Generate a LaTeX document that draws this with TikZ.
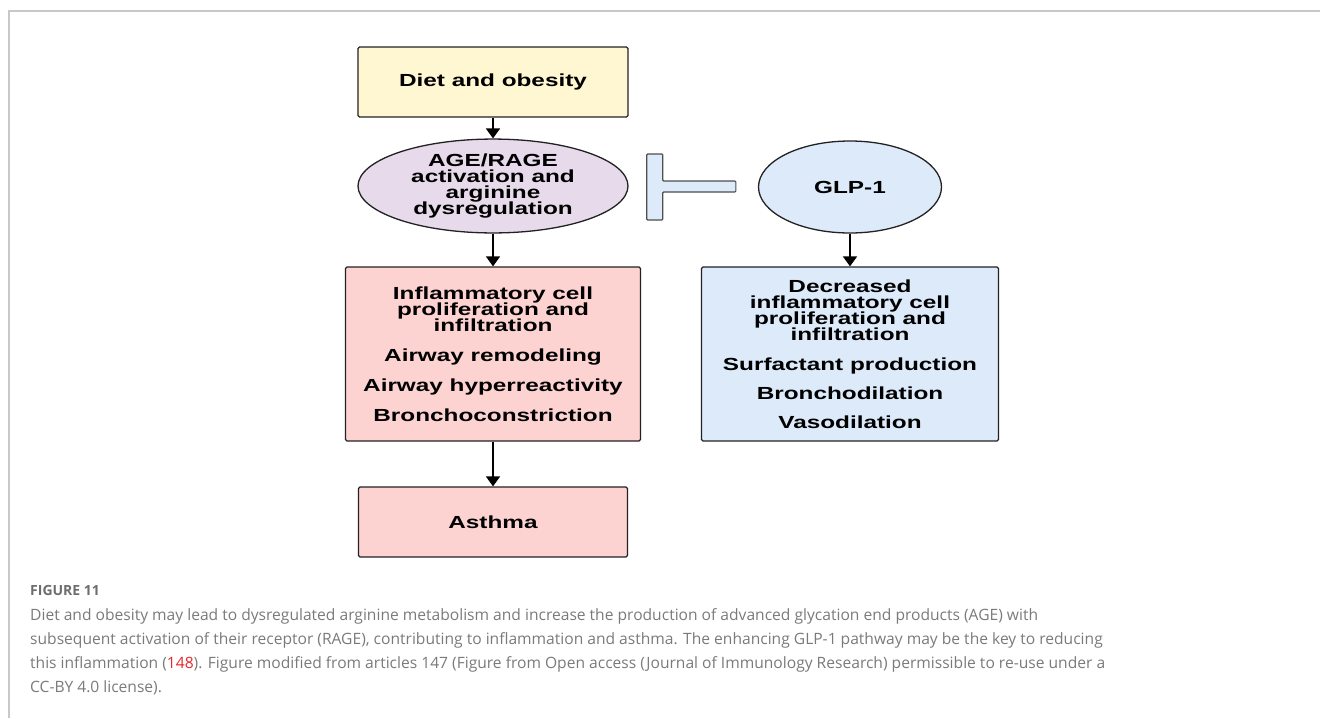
\documentclass[tikz,border=0pt]{standalone}
\usepackage{fontspec}
\setmainfont{Liberation Sans}
\newfontfamily\capfont{Open Sans}
\usepackage{graphicx}
\usetikzlibrary{shapes.geometric,arrows.meta,calc}
\definecolor{dietfill}{HTML}{FFF7D1}
\definecolor{agefill}{HTML}{E7DAEB}
\definecolor{bluefill}{HTML}{DCEAFA}
\definecolor{redfill}{HTML}{FDD3D2}
\definecolor{edge}{HTML}{222222}
\definecolor{framegrey}{HTML}{C8C8C8}
\definecolor{captext}{HTML}{7A7A7A}
\definecolor{capred}{HTML}{E8262A}
\newcommand\wtxt[1]{\scalebox{1.39}[1]{\vbox{\lineskiplimit=-\maxdimen\baselineskip=16pt\halign{\hfil##\hfil\cr#1\crcr}}}}
\newcommand\gapa{\noalign{\vskip 14pt}}
\newcommand\gapb{\noalign{\vskip 13pt}}
\begin{document}
\begin{tikzpicture}[x=1pt,y=-1pt,
  box/.style={draw=edge, line width=1.3pt, rounded corners=1.5pt, inner sep=1pt,
    align=center, font=\bfseries\fontsize{17.5}{16}\selectfont},
  ell/.style={box, ellipse, rounded corners=0pt},
  arr/.style={draw=black, line width=1.8pt, -{Triangle[width=14pt,length=10pt]}},
  tbar/.style={draw=edge!80, fill=bluefill, line width=1.2pt, rounded corners=1pt},
  captionline/.style={anchor=base west, inner sep=0pt, text=captext, font=\capfont\fontsize{15.6}{18}\selectfont}]
\useasboundingbox (0,0) rectangle (1320,718);
\draw[framegrey, line width=1.5pt] (9,718) -- (9,11) -- (1320,11);

\node[box, fill=dietfill, minimum width=270pt, minimum height=70pt] (diet) at (493,82) {\wtxt{Diet and obesity}};
\node[ell, fill=agefill, minimum width=270pt, minimum height=92pt] (age) at (493,186)
  {\wtxt{AGE/RAGE\cr activation and\cr arginine\cr dysregulation}};
\node[ell, fill=bluefill, minimum width=183pt, minimum height=92pt] (glp) at (850,187) {\wtxt{GLP-1}};
\node[box, fill=redfill, minimum width=295pt, minimum height=174pt] (red) at (493,354)
  {\wtxt{Inflammatory cell\cr proliferation and\cr infiltration\cr\gapa Airway remodeling\cr\gapa Airway hyperreactivity\cr\gapa Bronchoconstriction}};
\node[box, fill=bluefill, minimum width=297pt, minimum height=174pt] (blue) at (850,354)
  {\wtxt{Decreased\cr inflammatory cell\cr proliferation and\cr infiltration\cr\gapa Surfactant production\cr\gapb Bronchodilation\cr\gapb Vasodilation}};
\node[box, fill=redfill, minimum width=269pt, minimum height=70pt] (asthma) at (493,522) {\wtxt{Asthma}};

\draw[arr] (diet) -- (age);
\draw[arr] (age) -- (red);
\draw[arr] (red) -- (asthma);
\draw[arr] (glp) -- (blue);

\coordinate (ta) at ($(age.east)+(18,-32)$);
\coordinate (td) at ($(glp.west)+(-22,-6)$);
\draw[tbar] (ta) -- ++(16,0) |- (td) -- ++(0,11) -| ($(ta)+(16,66)$) -- ($(ta)+(0,66)$) -- cycle;

\node[captionline, font=\capfont\bfseries\fontsize{14}{16}\selectfont, text=captext!110] (fig) at (30,595) {FIGURE 11};
\node[captionline] (c1) at (30,620) {Diet and obesity may lead to dysregulated arginine metabolism and increase the production of advanced glycation end products (AGE) with};
\node[captionline] (c2) at (30,644) {subsequent activation of their receptor (RAGE), contributing to inflammation and asthma. The enhancing GLP-1 pathway may be the key to reducing};
\node[captionline] (c3) at (30,668) {this inflammation (\textcolor{capred}{148}). Figure modified from articles 147 (Figure from Open access (Journal of Immunology Research) permissible to re-use under a};
\node[captionline] (c4) at (30,692) {CC-BY 4.0 license).};
\end{tikzpicture}
\end{document}
